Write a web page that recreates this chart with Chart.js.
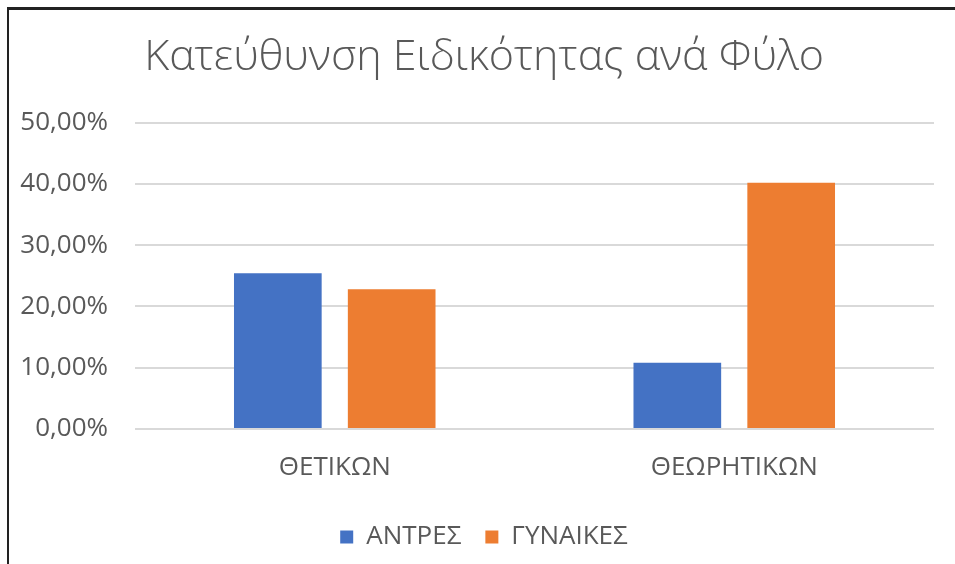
<!DOCTYPE html>
<html>
<head>
<meta charset="utf-8">
<script src="https://cdn.jsdelivr.net/npm/chart.js@4.4.1/dist/chart.umd.min.js"></script>
<style>
  body { margin: 0; background: #fff; }
  #frame {
    position: absolute; left: 7px; top: 7px; width: 1000px; height: 600px;
    border-left: 2px solid #222; border-top: 3px solid #222;
  }
  #wrap { position: absolute; left: 0; top: 0; width: 955px; height: 564px; }
</style>
</head>
<body>
<div id="frame"></div>
<div id="wrap"><canvas id="chart" width="955" height="564"></canvas></div>
<script>
// Data
const categories = ['ΘΕΤΙΚΩΝ', 'ΘΕΩΡΗΤΙΚΩΝ'];
const seriesNames = ['ΑΝΤΡΕΣ', 'ΓΥΝΑΙΚΕΣ'];
const men = [0.254, 0.108];
const women = [0.228, 0.402];
const yTicks = [0, 0.1, 0.2, 0.3, 0.4, 0.5];

const textColor = '#595959';
const fontFamily = '"Open Sans", "Noto Sans", sans-serif';

// y labels stick out past the left padding, so widen their clip box
const unclipLabels = {
    id: 'unclipLabels',
    afterLayout: chart => { chart.scales.y.left = 0; }
};

const ctx = document.getElementById('chart').getContext('2d');
const myChart = new Chart(ctx, {
    type: 'bar',
    data: {
        labels: categories,
        datasets: [
            { label: seriesNames[0], data: men, backgroundColor: '#4472C4' },
            { label: seriesNames[1], data: women, backgroundColor: '#ED7D31' }
        ]
    },
    plugins: [unclipLabels],
    options: {
        responsive: false,
        animation: false,
        categoryPercentage: 0.57,
        barPercentage: 0.77,
        layout: { padding: { left: 34, right: 21, top: 0, bottom: 4 } },
        plugins: {
            title: {
                display: true,
                text: 'Κατεύθυνση Ειδικότητας ανά Φύλο',
                color: textColor,
                font: { family: fontFamily, size: 43, weight: '300' },
                padding: { top: 32, bottom: 39 }
            },
            legend: {
                position: 'bottom',
                labels: {
                    color: textColor,
                    font: { family: fontFamily, size: 26 },
                    boxWidth: 13,
                    boxHeight: 13,
                    padding: 24
                }
            },
            tooltip: { enabled: false }
        },
        scales: {
            x: {
                grid: { display: false },
                border: { display: false },
                ticks: { color: textColor, font: { family: fontFamily, size: 26 }, padding: 15 },
                afterFit: scale => { scale.height = 71; }
            },
            y: {
                min: 0,
                max: 0.5,
                afterBuildTicks: scale => { scale.ticks = yTicks.map(v => ({ value: v })); },
                grid: { color: '#d9d9d9', lineWidth: 2, drawTicks: false },
                border: { display: false },
                ticks: {
                    color: textColor,
                    font: { family: fontFamily, size: 26 },
                    padding: 27,
                    callback: v => (v * 100).toFixed(2).replace('.', ',') + '%'
                },
                afterFit: scale => { scale.width = 101; }
            }
        }
    }
});
</script>
</body>
</html>
